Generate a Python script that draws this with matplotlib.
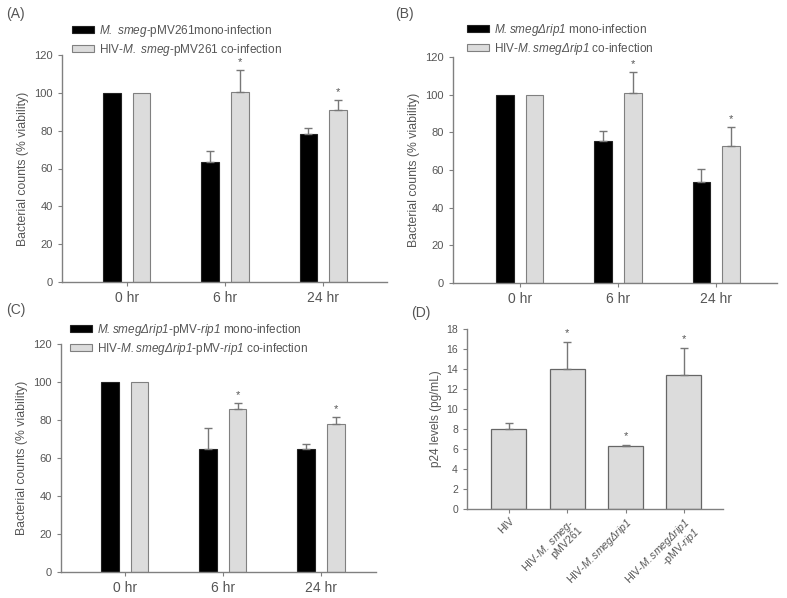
import matplotlib
matplotlib.use("Agg")
import matplotlib.pyplot as plt
import numpy as np

plt.rcParams['font.family'] = ['Liberation Sans', 'DejaVu Sans']
plt.rcParams['mathtext.fontset'] = 'custom'
plt.rcParams['mathtext.it'] = 'Liberation Sans:italic'
plt.rcParams['mathtext.rm'] = 'Liberation Sans:italic'
plt.rcParams['mathtext.default'] = 'it'

TXT = '#555555'
SPINE = '#808080'
GRAY = '#dcdcdc'
EDGE = '#808080'

time_labels = ['0 hr', '6 hr', '24 hr']

# Panel A
a_mono = [100, 63.5, 78]
a_mono_err = [0, 5.5, 3.2]
a_co = [100, 100.7, 91]
a_co_err = [0, 11.3, 5.3]
a_star = [False, True, True]
a_labels = [r"$M.$ $smeg$-pMV261mono-infection", r"HIV-$M.$ $smeg$-pMV261 co-infection"]

# Panel B
b_mono = [100, 75.5, 53.5]
b_mono_err = [0, 5.0, 7.0]
b_co = [100, 101, 72.5]
b_co_err = [0, 11.0, 10.5]
b_star = [False, True, True]
b_labels = [r"$M.smeg\Delta rip1$ mono-infection", r"HIV-$M.smeg\Delta rip1$ co-infection"]

# Panel C
c_mono = [100, 65, 65]
c_mono_err = [0, 11.0, 2.5]
c_co = [100, 86, 78]
c_co_err = [0, 3.0, 3.5]
c_star = [False, True, True]
c_labels = [r"$M.smeg\Delta rip1$-pMV-$rip1$ mono-infection",
            r"HIV-$M.smeg\Delta rip1$-pMV-$rip1$ co-infection"]

# Panel D
d_cats = ["HIV", "HIV-$M.$ $smeg$-\npMV261", "HIV-$M.smeg\\Delta rip1$",
          "HIV-$M.smeg\\Delta rip1$\n-pMV-$rip1$"]
d_vals = [8.0, 14.05, 6.3, 13.4]
d_err = [0.6, 2.65, 0.15, 2.7]
d_star = [False, True, True, True]

W, H = 787, 598
fig = plt.figure(figsize=(W / 100, H / 100), dpi=100)


def px_axes(l, r, t, b):
    return fig.add_axes([l / W, 1 - b / H, (r - l) / W, (b - t) / H])


def style(ax, ytick_fs):
    for s in ['top', 'right']:
        ax.spines[s].set_visible(False)
    for s in ['left', 'bottom']:
        ax.spines[s].set_color(SPINE)
        ax.spines[s].set_linewidth(1.0)
    ax.tick_params(axis='both', colors=SPINE, labelcolor=TXT, length=3, width=0.8, direction='out')
    ax.tick_params(axis='y', labelsize=ytick_fs)


def timepanel(l, r, t, b, xlim, mono, mono_err, co, co_err, stars, labels, leg_xy, tag, tag_xy):
    ax = px_axes(l, r, t, b)
    x = np.arange(len(mono))
    w = 0.18
    off = 0.15
    b1 = ax.bar(x - off, mono, w, color='black', edgecolor='#222222', linewidth=0.8, label=labels[0])
    b2 = ax.bar(x + off, co, w, color=GRAY, edgecolor=EDGE, linewidth=0.8, label=labels[1])
    for xi, v, e in zip(x, mono, mono_err):
        if e > 0:
            ax.errorbar(xi - off, v, yerr=[[0], [e]], fmt='none', ecolor='#777777', elinewidth=1, capsize=3, capthick=1)
    for xi, v, e, s in zip(x, co, co_err, stars):
        if e > 0:
            ax.errorbar(xi + off, v, yerr=[[0], [e]], fmt='none', ecolor='#777777', elinewidth=1, capsize=3, capthick=1)
        if s:
            ax.text(xi + off, v + e + 1.5, '*', ha='center', va='bottom', fontsize=8, color=TXT)
    ax.set_ylim(0, 120)
    ax.set_yticks(np.arange(0, 121, 20))
    ax.set_xlim(*xlim)
    ax.set_xticks(x)
    ax.set_xticklabels(time_labels, fontsize=10)
    style(ax, 8)
    ax.set_ylabel('Bacterial counts (% viability)', fontsize=8.8, color=TXT, labelpad=4)
    ax.legend(handles=[b1, b2], loc='upper left', bbox_to_anchor=(leg_xy[0] / W, 1 - leg_xy[1] / H),
              bbox_transform=fig.transFigure, frameon=False, fontsize=8.5, handlelength=1.9,
              handleheight=0.55, handletextpad=0.35, labelspacing=0.25, borderpad=0, borderaxespad=0,
              labelcolor=TXT)
    fig.text(tag_xy[0] / W, 1 - tag_xy[1] / H, tag, fontsize=10, color=TXT, ha='left', va='center')
    return ax


timepanel(62, 387, 55, 282, (-0.66, 2.65), a_mono, a_mono_err, a_co, a_co_err, a_star, a_labels,
          (72, 23), '(A)', (6, 14))
timepanel(453, 777, 57, 283, (-0.68, 2.62), b_mono, b_mono_err, b_co, b_co_err, b_star, b_labels,
          (467, 22), '(B)', (395, 14))
timepanel(61, 376, 344, 572, (-0.65, 2.56), c_mono, c_mono_err, c_co, c_co_err, c_star, c_labels,
          (70, 322), '(C)', (6, 310))

# Panel D
axd = px_axes(467, 723, 329, 509)
xd = np.arange(len(d_vals))
axd.bar(xd, d_vals, 0.6, color=GRAY, edgecolor='#666666', linewidth=0.9)
for xi, v, e, s in zip(xd, d_vals, d_err, d_star):
    axd.errorbar(xi, v, yerr=[[0], [e]], fmt='none', ecolor='#777777', elinewidth=1, capsize=3, capthick=1)
    if s:
        axd.text(xi, v + e + 0.35, '*', ha='center', va='bottom', fontsize=8, color=TXT)
axd.set_ylim(0, 18)
axd.set_yticks(np.arange(0, 19, 2))
axd.set_xlim(-0.72, 3.67)
axd.set_xticks(xd)
axd.set_xticklabels(d_cats, rotation=45, ha='right', rotation_mode='anchor', fontsize=7.7, linespacing=0.92)
style(axd, 7.5)
axd.tick_params(axis='x', pad=2)
axd.set_ylabel('p24 levels (pg/mL)', fontsize=8.5, color=TXT, labelpad=3)
fig.text(411 / W, 1 - 313 / H, '(D)', fontsize=10, color=TXT, ha='left', va='center')

fig.savefig('out.png', dpi=100)
